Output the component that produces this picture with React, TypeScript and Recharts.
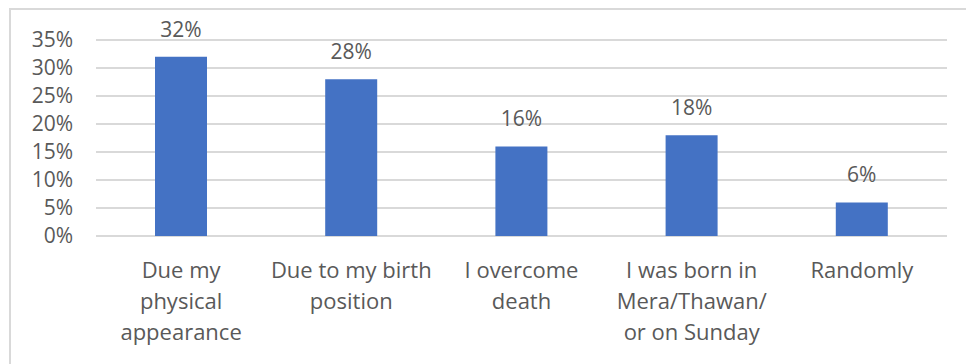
import { Bar, BarChart, CartesianGrid, LabelList, XAxis, YAxis } from "recharts";

const categories = [
  "Due my\nphysical\nappearance",
  "Due to my birth\nposition",
  "I overcome\ndeath",
  "I was born in\nMera/Thawan/\nor on Sunday",
  "Randomly",
];
const shares = [32, 28, 16, 18, 6];
const yTicks = [0, 5, 10, 15, 20, 25, 30, 35];

const data = categories.map((name, i) => ({ name, value: shares[i] }));

const TEXT = "#595959";
const FONT = "'Open Sans', 'Liberation Sans', sans-serif";

function CategoryTick({ x, y, payload }: any) {
  const lines = String(payload.value).split("\n");
  return (
    <text x={x} y={y} textAnchor="middle" fill={TEXT} fontSize={22} fontFamily={FONT}>
      {lines.map((line, i) => (
        <tspan key={i} x={x} dy={i === 0 ? 34 : 31}>
          {line}
        </tspan>
      ))}
    </text>
  );
}

export default function App() {
  return (
    <div style={{ position: "absolute", left: 0, top: 0, width: 967, height: 364, background: "#fff" }}>
      <div
        style={{
          position: "absolute",
          left: 9,
          top: 8,
          width: 957,
          height: 360,
          borderLeft: "2px solid #d9d9d9",
          borderTop: "2px solid #d9d9d9",
          boxSizing: "border-box",
        }}
      />
      <div style={{ position: "absolute", left: 0, top: 0 }}>
        <BarChart width={967} height={364} data={data} margin={{ top: 40, right: 20, bottom: 0, left: 0 }} barSize={52}>
          <CartesianGrid vertical={false} stroke="#d9d9d9" strokeWidth={2} />
          <XAxis
            dataKey="name"
            axisLine={false}
            tickLine={false}
            height={128}
            interval={0}
            tick={<CategoryTick />}
          />
          <YAxis
            domain={[0, 35]}
            ticks={yTicks}
            interval={0}
            axisLine={false}
            tickLine={false}
            width={96}
            tickSize={6}
            tickMargin={17}
            tickFormatter={(v: number) => `${v}%`}
            tick={{ fill: TEXT, fontSize: 21, fontFamily: FONT }}
          />
          <Bar dataKey="value" fill="#4472C4" isAnimationActive={false}>
            <LabelList
              dataKey="value"
              position="top"
              offset={20}
              formatter={(v: any) => `${v}%`}
              fill={TEXT}
              fontSize={21}
              fontFamily={FONT}
            />
          </Bar>
        </BarChart>
      </div>
    </div>
  );
}
